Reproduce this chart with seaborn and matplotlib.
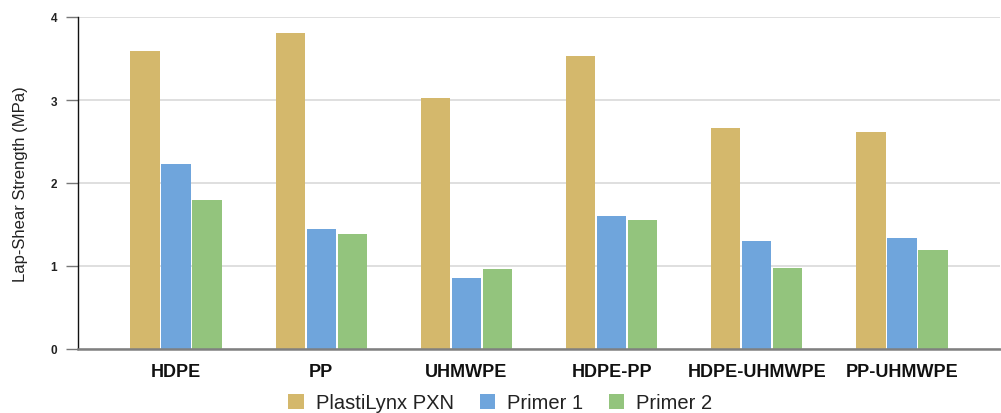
import matplotlib
matplotlib.use("Agg")
import matplotlib.pyplot as plt
import seaborn as sns
import pandas as pd

materials = ["HDPE", "PP", "UHMWPE", "HDPE-PP", "HDPE-UHMWPE", "PP-UHMWPE"]
series_names = ["PlastiLynx PXN", "Primer 1", "Primer 2"]
pxn = [3.59, 3.81, 3.03, 3.53, 2.66, 2.62]
primer1 = [2.23, 1.45, 0.86, 1.60, 1.30, 1.34]
primer2 = [1.79, 1.38, 0.96, 1.56, 0.97, 1.19]
colors = ["#D4B86C", "#6FA5DC", "#93C47D"]
y_ticks = [0, 1, 2, 3, 4]

rows = []
for name, vals in zip(series_names, [pxn, primer1, primer2]):
    for m, v in zip(materials, vals):
        rows.append({"Material": m, "Series": name, "Value": v})
df = pd.DataFrame(rows)

sns.set_theme(style="white")
plt.rcParams["font.family"] = ["Liberation Sans", "DejaVu Sans"]

fig = plt.figure(figsize=(10.01, 4.14), dpi=100)
ax = fig.add_axes([78 / 1001, 1 - 350 / 414, (1000 - 78) / 1001, (350 - 18) / 414])

sns.barplot(data=df, x="Material", y="Value", hue="Series", order=materials,
            hue_order=series_names, palette=colors, width=0.64, gap=0.06,
            linewidth=0, saturation=1, errorbar=None, ax=ax, zorder=3)

ax.set_xlim(-0.675, 5.675)
ax.set_ylim(0, 4)
ax.set_yticks(y_ticks)
ax.set_yticklabels([str(t) for t in y_ticks], fontweight="bold", fontsize=8.5, color="#222222")
ax.grid(axis="y", color="#d9d9d9", linewidth=1.2, zorder=0)
ax.set_axisbelow(True)
ax.tick_params(axis="y", which="major", length=9, width=1, color="#777777", pad=6, left=True)
ax.tick_params(axis="x", length=0, pad=10)
for lbl in ax.get_xticklabels():
    lbl.set_fontweight("bold")
    lbl.set_fontsize(13)
    lbl.set_color("#111111")

ax.set_xlabel("")
ax.set_ylabel("Lap-Shear Strength (MPa)", fontsize=12, color="#222222", labelpad=16)

for s in ["top", "right"]:
    ax.spines[s].set_visible(False)
ax.spines["left"].set_color("#111111")
ax.spines["left"].set_linewidth(1)
ax.spines["bottom"].set_color("#808080")
ax.spines["bottom"].set_linewidth(1.8)
ax.spines["bottom"].set_zorder(5)

handles, labels = ax.get_legend_handles_labels()
ax.get_legend().remove()
fig.legend(handles, labels, loc="center", bbox_to_anchor=(0.5, 1 - 404 / 414), ncol=3,
           frameon=False, fontsize=14.5, handlelength=0.75, handleheight=0.75,
           handletextpad=0.6, columnspacing=1.3, labelcolor="#222222")

fig.savefig("out.png", dpi=100)
